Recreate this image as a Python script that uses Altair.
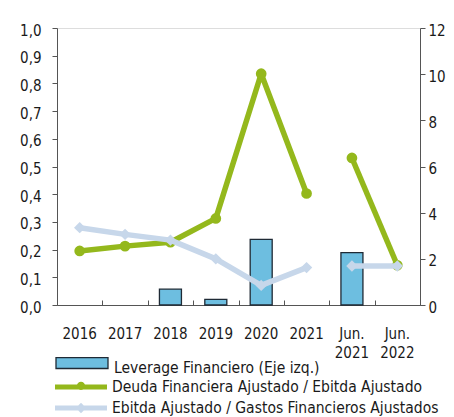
import altair as alt
import pandas as pd

categories = ["2016", "2017", "2018", "2019", "2020", "2021", "Jun. 2021", "Jun. 2022"]
leverage = [None, None, 0.057, 0.02, 0.237, None, 0.189, None]
deuda_ebitda = [2.34, 2.55, 2.72, 3.75, 10.02, 4.83, 6.37, 1.72]
ebitda_gastos = [3.35, 3.06, 2.81, 2.0, 0.85, 1.62, 1.69, 1.69]
segment = ["a", "a", "a", "a", "a", "a", "b", "b"]

lab_lev = "Leverage Financiero (Eje izq.)"
lab_deuda = "Deuda Financiera Ajustado / Ebitda Ajustado"
lab_ebitda = "Ebitda Ajustado / Gastos Financieros Ajustados"

GREEN = "#94B81C"
LBLUE = "#C7D7EA"
BAR = "#6DBEE0"
AXC = "#555555"
TXT = "#1A1A1A"
FONT = "DejaVu Sans Condensed"
FS = 15

df = pd.DataFrame({
    "cat": categories,
    "lev": leverage,
    "deuda": deuda_ebitda,
    "ebitda": ebitda_gastos,
    "seg": segment,
    "s_lev": lab_lev,
    "s_deuda": lab_deuda,
    "s_ebitda": lab_ebitda,
})

W, H = 363, 277
xscale = alt.Scale(paddingInner=0, paddingOuter=0)

legend_common = dict(orient="none", title=None, labelFont=FONT, labelFontSize=15.5,
                     labelColor=TXT, labelOffset=5, padding=0, labelLimit=500)

rect_path = "M-1,-0.40L1,-0.40L1,0.02L-1,0.02Z"
line_circle_path = ("M-1,-0.1L1,-0.1L1,0.1L-1,0.1Z "
                    "M0.16,-0.04A0.16,0.16 0 1,1 -0.16,-0.04A0.16,0.16 0 1,1 0.16,-0.04Z")
line_diamond_path = ("M-1,-0.1L1,-0.1L1,0.1L-1,0.1Z "
                     "M0,-0.2L0.2,0L0,0.2L-0.2,0Z")

bars = alt.Chart(df).transform_filter("isValid(datum.lev)").mark_bar(
    size=22, stroke="#1F2A35", strokeWidth=1.3
).encode(
    x=alt.X("cat:N", sort=categories, title=None, scale=xscale,
            axis=alt.Axis(orient="bottom", labelExpr="split(datum.label, ' ')",
                          labelAngle=0, tickSize=0, domainColor=AXC,
                          labelFont=FONT, labelFontSize=FS, labelColor=TXT,
                          labelLineHeight=19, labelPadding=21)),
    y=alt.Y("lev:Q", title=None,
            scale=alt.Scale(domain=[0, 1], nice=False),
            axis=alt.Axis(orient="left", values=[i / 10 for i in range(11)],
                          labelExpr="replace(format(datum.value, '.1f'), '.', ',')",
                          grid=False, tickSize=5, tickColor=AXC,
                          domainColor=AXC, labelFont=FONT, labelFontSize=FS,
                          labelColor=TXT, labelPadding=11, labelOffset=2)),
    color=alt.Color("s_lev:N", scale=alt.Scale(range=[BAR]),
                    legend=alt.Legend(**legend_common, legendX=-2, legendY=313,
                                      symbolType=rect_path, symbolSize=2704,
                                      symbolStrokeColor="#1F2A35",
                                      symbolStrokeWidth=1.3)),
)

# inward-pointing category ticks along the bottom edge
ticks = alt.Chart(df).mark_point(opacity=0).encode(
    x=alt.X("cat:N", sort=categories, title=None, scale=xscale,
            axis=alt.Axis(orient="top", offset=-H, labels=False, domain=False,
                          tickBand="extent", tickSize=5, tickColor=AXC)),
)

left = alt.layer(bars, ticks)

yright = alt.Y("deuda:Q", title=None,
               scale=alt.Scale(domain=[0, 12], nice=False),
               axis=alt.Axis(orient="right", values=list(range(0, 13, 2)),
                             grid=False, tickSize=5, tickColor=AXC,
                             domainColor=AXC, labelFont=FONT, labelFontSize=FS,
                             labelColor=TXT, labelPadding=3, labelOffset=2))

green = alt.Chart(df).mark_line(
    strokeWidth=5.5, strokeJoin="round",
    point=alt.OverlayMarkDef(size=115, filled=True, opacity=1)
).encode(
    x=alt.X("cat:N", sort=categories, axis=None),
    y=yright,
    detail="seg:N",
    color=alt.Color("s_deuda:N", scale=alt.Scale(range=[GREEN]),
                    legend=alt.Legend(**legend_common, legendX=-2, legendY=333,
                                      symbolType=line_circle_path, symbolSize=2704,
                                      symbolFillColor=GREEN, symbolStrokeWidth=0)),
)

blue = alt.Chart(df).mark_line(
    strokeWidth=5.5, strokeJoin="round",
    point=alt.OverlayMarkDef(shape="diamond", size=130, filled=True, opacity=1)
).encode(
    x=alt.X("cat:N", sort=categories, axis=None),
    y=alt.Y("ebitda:Q"),
    detail="seg:N",
    color=alt.Color("s_ebitda:N", scale=alt.Scale(range=[LBLUE]),
                    legend=alt.Legend(**legend_common, legendX=-2, legendY=354,
                                      symbolType=line_diamond_path, symbolSize=2704,
                                      symbolFillColor=LBLUE, symbolStrokeWidth=0)),
)

lines = alt.layer(green, blue).resolve_scale(color="independent")

chart = alt.layer(left, lines).resolve_scale(
    y="independent", color="independent"
).properties(
    width=W, height=H,
    autosize=alt.AutoSizeParams(type="none"),
    padding={"left": 49, "top": 20, "right": 26, "bottom": 112},
).configure_view(stroke=None).configure(background="white")

chart.save("out.html", embed_options={"renderer": "svg", "actions": False})
